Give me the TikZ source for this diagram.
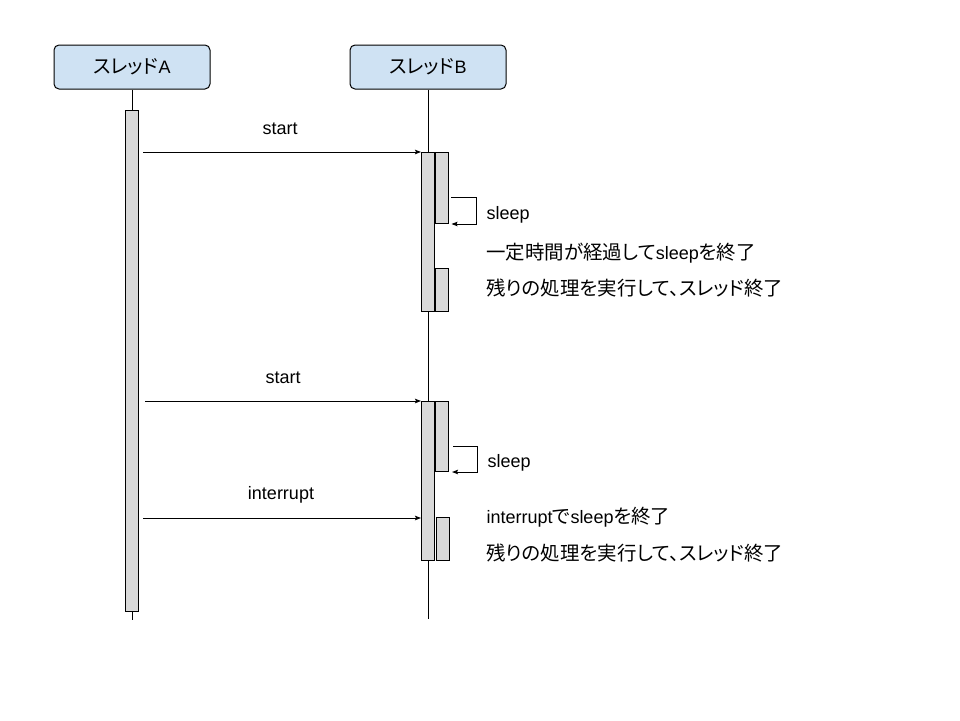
\documentclass[tikz,border=0pt]{standalone}
\usepackage{fontspec}
\setmainfont{Liberation Sans}
\newfontfamily\jpfont{Noto Sans CJK JP}[Scale=1.08,RawFeature=+palt]
\usepackage{xcolor}
\usepackage{tikz}
\usetikzlibrary{arrows.meta}
\definecolor{headblue}{HTML}{CFE2F3}
\definecolor{bargray}{HTML}{D9D9D9}
\newcommand{\ja}[1]{{\jpfont #1}}

\begin{document}
\begin{tikzpicture}[x=1pt,y=-1pt,line width=1pt,
  every node/.style={font=\fontsize{18}{21}\selectfont},
  thread/.style={draw,fill=headblue,rounded corners=5pt,minimum width=156pt,minimum height=44pt,inner sep=0pt},
  bar/.style={draw,fill=bargray,minimum width=13pt,inner sep=0pt,anchor=north},
  msg/.style={-{Stealth[length=6pt,width=4.5pt,inset=1pt]}},
  lbl/.style={inner sep=0pt}]

\useasboundingbox (0,0) rectangle (960,720);

\pgfmathsetmacro{\XA}{132}
\pgfmathsetmacro{\XB}{428}

% thread headers
\node[thread] (thrA) at (\XA,67) {\ja{スレッド}A};
\node[thread] (thrB) at (\XB,67) {\ja{スレッド}B};

% lifelines
\coordinate (endA) at (\XA,620);
\coordinate (endB) at (\XB,619);
\draw (thrA) -- (endA);
\draw (thrB) -- (endB);

% activation bars
\node[bar,minimum height=501pt] (actA) at (\XA,110) {};
\node[bar,minimum height=159pt] (actB1) at (\XB,152) {};
\node[bar,minimum height=71pt] (actB1a) at (441.5,152) {};
\node[bar,minimum height=43pt] (actB1b) at (441.5,268) {};
\node[bar,minimum height=159pt] (actB2) at (\XB,401) {};
\node[bar,minimum height=70pt] (actB2a) at (442,401) {};
\node[bar,minimum height=43pt] (actB2b) at (443,517) {};

% first start
\coordinate (srcS1) at (143,152);
\draw[msg] (srcS1) -- (actB1.north west);
\node[lbl,anchor=base] (lstart1) at (280,134) {start};

% sleep, woken by time
\coordinate (slp1) at (451,197);
\draw[msg] (slp1) -- ++(25,0) |- ([xshift=3pt]actB1a.south east);
\node[lbl,anchor=base west] (lsleep1) at (486,219) {sleep};
\node[lbl,anchor=base west] (lwake1) at (486,259) {\ja{一定時間が経過して}sleep\ja{を終了}};
\node[lbl,anchor=base west] (lend1) at (486,295) {\ja{残りの処理を実行して、スレッド終了}};

% second start
\coordinate (srcS2) at (145,401);
\draw[msg] (srcS2) -- (actB2.north west);
\node[lbl,anchor=base] (lstart2) at (283,383) {start};

% sleep, woken by interrupt
\coordinate (slp2) at (453,446);
\draw[msg] (slp2) -- ++(24,0) |- ([xshift=3pt]actB2a.south east);
\node[lbl,anchor=base west] (lsleep2) at (487,467) {sleep};

\coordinate (srcI) at (143,518);
\draw[msg] (srcI) -- (srcI -| actB2.west);
\node[lbl,anchor=base] (lint) at (281,499) {interrupt};
\node[lbl,anchor=base west] (lwake2) at (486,523) {interrupt\ja{で}sleep\ja{を終了}};
\node[lbl,anchor=base west] (lend2) at (486,560) {\ja{残りの処理を実行して、スレッド終了}};
\end{tikzpicture}
\end{document}
